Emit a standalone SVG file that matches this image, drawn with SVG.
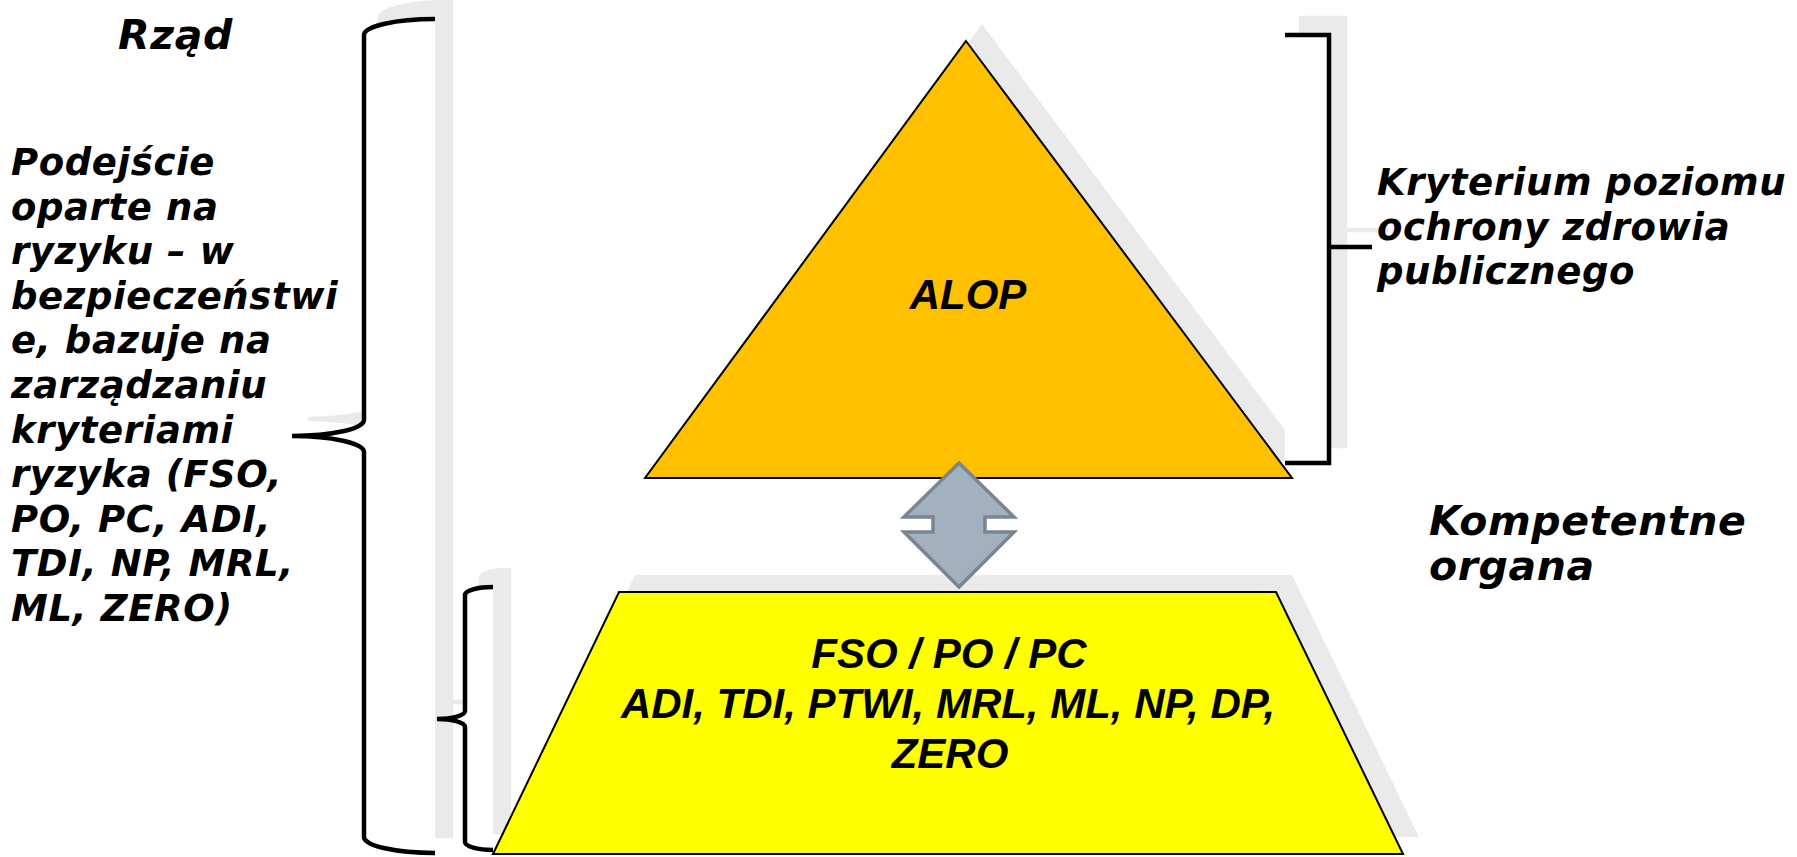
<svg xmlns="http://www.w3.org/2000/svg" width="1797" height="857" viewBox="0 0 1797 857">
<style>
.sh{fill:#EAEAEA;stroke:#EAEAEA;stroke-width:4.5}
.bf{fill:#FFFFFF;stroke:none}
.bs{fill:none;stroke:#000;stroke-width:4.5}
.lbl{font-family:"DejaVu Sans","Verdana",sans-serif;font-weight:bold;font-style:italic;fill:#000;letter-spacing:0.6px}
.big{font-size:41px}
.par{font-size:37px}
.in{font-family:"Liberation Sans",Arial,sans-serif;font-weight:bold;font-style:italic;font-size:42px;fill:#000;text-anchor:middle}
</style>
<defs>
<path id="bigBrace" d="M435,19 A71,16 0 0,0 364,35 L364,420 A72,16 0 0,1 292,436 A72,16 0 0,1 364,452 L364,837 A71,16 0 0,0 435,853"/>
<path id="smallBrace" d="M493,587 A28,8 0 0,0 465,595 L465,711 A28,8 0 0,1 437,719 A28,8 0 0,1 465,727 L465,842 A28,8 0 0,0 493,850"/>
<path id="tri" d="M966,41 L1292,478 L645,478 Z"/>
<path id="trap" d="M619,592 L1276,592 L1403,854 L493,854 Z"/>
</defs>
<rect width="1797" height="857" fill="#FFFFFF"/>

<g id="brace-rzad">
<path class="sh" transform="translate(16,-17)" d="M435,19 A71,16 0 0,0 364,35 L364,420 A72,16 0 0,1 292,436 A72,16 0 0,1 364,452 L364,837 A71,16 0 0,0 435,853 Z"/>
<path class="bf" d="M435,19 A71,16 0 0,0 364,35 L364,420 A72,16 0 0,1 292,436 A72,16 0 0,1 364,452 L364,837 A71,16 0 0,0 435,853 Z"/>
<use href="#bigBrace" class="bs"/>
</g>

<g id="brace-organa">
<path class="sh" transform="translate(16,-17)" d="M493,587 A28,8 0 0,0 465,595 L465,711 A28,8 0 0,1 437,719 A28,8 0 0,1 465,727 L465,842 A28,8 0 0,0 493,850 Z"/>
<path class="bf" d="M493,587 A28,8 0 0,0 465,595 L465,711 A28,8 0 0,1 437,719 A28,8 0 0,1 465,727 L465,842 A28,8 0 0,0 493,850 Z"/>
<use href="#smallBrace" class="bs"/>
</g>

<g id="alop">
<use href="#tri" transform="translate(16,-17)" fill="#EAEAEA"/>
<use href="#tri" fill="#FFC000" stroke="#000" stroke-width="2" stroke-linejoin="miter"/>
<text class="in" x="968" y="309">ALOP</text>
</g>

<g id="brace-kryterium">
<path class="sh" transform="translate(16,-17)" d="M1285,35 H1329 V247 H1372 H1329 V463 H1285 Z"/>
<path class="bf" d="M1285,35 H1329 V247 H1372 H1329 V463 H1285 Z"/>
<path class="bs" d="M1285,35 H1329 V463 H1285 M1329,247 H1372"/>
</g>

<g id="criteria">
<use href="#trap" transform="translate(16,-17)" fill="#EAEAEA"/>
<use href="#trap" fill="#FFFF00" stroke="#000" stroke-width="2"/>
<text class="in" x="949" y="668">FSO / PO / PC</text>
<text class="in" x="948" y="718">ADI, TDI, PTWI, MRL, ML, NP, DP,</text>
<text class="in" x="950" y="768">ZERO</text>
</g>

<g id="connectors">
<path d="M959,463 L1014,517 L985,517 L985,532 L1014,532 L959,587 L904,532 L933,532 L933,517 L904,517 Z" fill="#A3B1BF" stroke="#7A8591" stroke-width="3.5" stroke-linejoin="miter"/>
</g>

<g id="label-rzad">
<text class="lbl big" x="118" y="49">Rząd</text>
</g>

<g id="label-podejscie">
<text class="lbl par" x="11" y="175">Podejście</text>
<text class="lbl par" x="11" y="219.6">oparte na</text>
<text class="lbl par" x="11" y="264.2">ryzyku – w</text>
<text class="lbl par" x="11" y="308.8">bezpieczeństwi</text>
<text class="lbl par" x="11" y="353.4">e, bazuje na</text>
<text class="lbl par" x="11" y="398">zarządzaniu</text>
<text class="lbl par" x="11" y="442.6">kryteriami</text>
<text class="lbl par" x="11" y="487.2">ryzyka (FSO,</text>
<text class="lbl par" x="11" y="531.8">PO, PC, ADI,</text>
<text class="lbl par" x="11" y="576.4">TDI, NP, MRL,</text>
<text class="lbl par" x="11" y="621">ML, ZERO)</text>
</g>

<g id="label-kryterium">
<text class="lbl par" x="1377" y="195">Kryterium poziomu</text>
<text class="lbl par" x="1377" y="240">ochrony zdrowia</text>
<text class="lbl par" x="1377" y="284">publicznego</text>
</g>

<g id="label-organa">
<text class="lbl big" x="1429" y="535">Kompetentne</text>
<text class="lbl big" x="1429" y="580">organa</text>
</g>
</svg>
